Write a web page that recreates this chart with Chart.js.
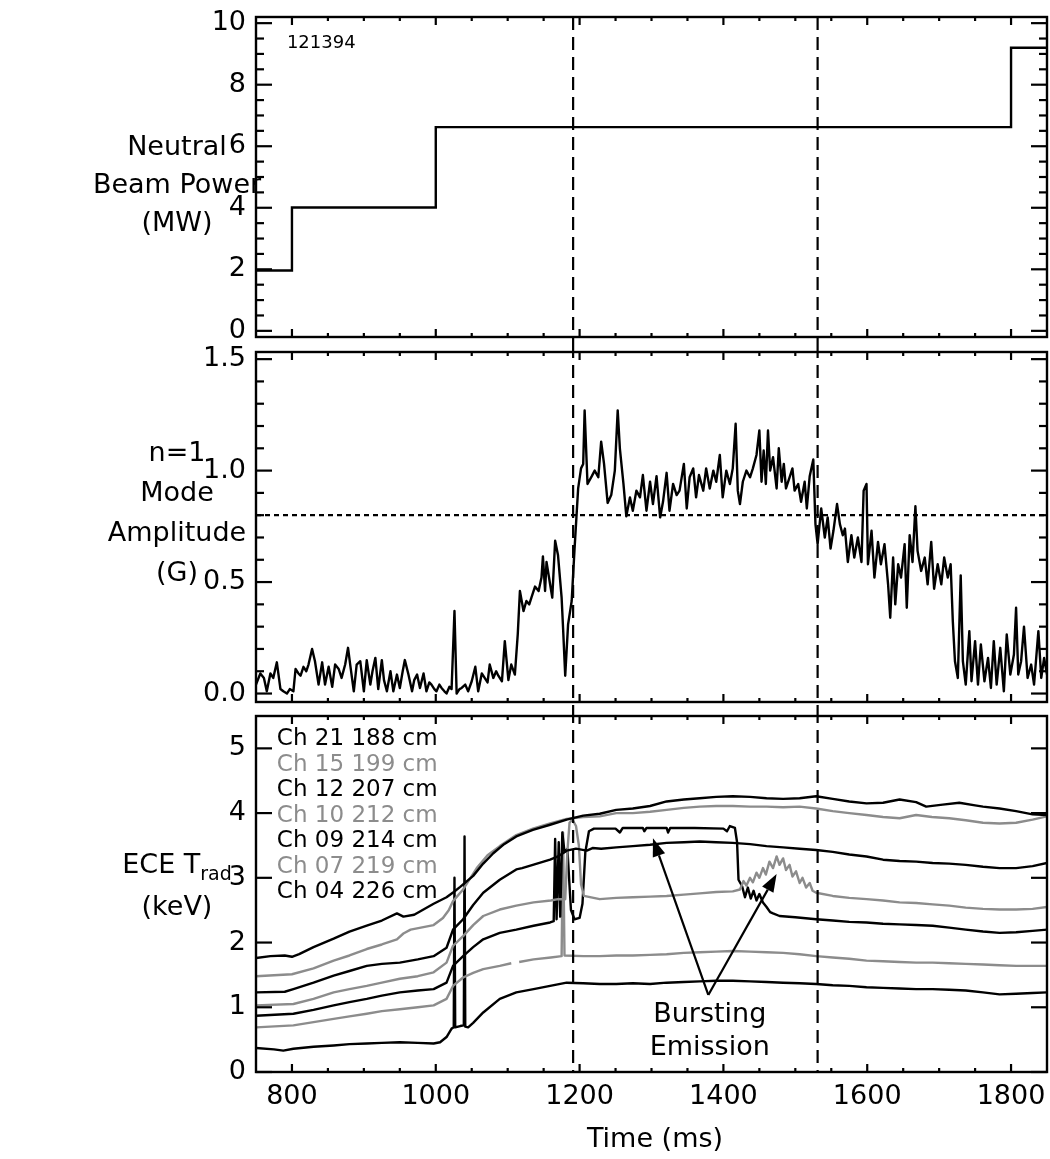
<!DOCTYPE html>
<html>
<head>
<meta charset="utf-8">
<script src="https://cdn.jsdelivr.net/npm/chart.js@4.4.1/dist/chart.umd.min.js"></script>
<style>
  body { margin: 0; background: #fff; }
  #page { position: relative; width: 1050px; height: 1159px; font-family: "DejaVu Sans", sans-serif; color: #000; }
  canvas { position: absolute; left: 0; }
  .lab { position: absolute; left: 27px; width: 300px; text-align: center; font-size: 27px; }
  .lab sub { font-size: 19px; vertical-align: -7px; line-height: 0; }
</style>
</head>
<body>
<div id="page">
  <canvas id="beamChart" width="1050" height="345" style="top:0px"></canvas>
  <canvas id="modeChart" width="1050" height="365" style="top:345px"></canvas>
  <canvas id="eceChart" width="1050" height="449" style="top:710px"></canvas>
  <div class="lab" style="top:127px; line-height:38px">Neutral<br>Beam Power<br>(MW)</div>
  <div class="lab" style="top:432px; line-height:40px">n=1<br>Mode<br>Amplitude<br>(G)</div>
  <div class="lab" style="top:843px; line-height:42px">ECE T<sub>rad</sub><br>(keV)</div>
  <div class="lab" style="top:1121px; left:505px; line-height:34px">Time (ms)</div>
</div>
<script>
// ---- data ----
const shotNumber = '121394';
const markTimes = [1191, 1531];      // dashed vertical lines (ms)
const modeThreshold = 0.8;           // dotted horizontal line (G)

const xMajor = [800, 1000, 1200, 1400, 1600, 1800];
const xMinor = [850, 900, 950, 1050, 1100, 1150, 1250, 1300, 1350, 1450, 1500, 1550, 1650, 1700, 1750];
const beamTicks = [0, 2, 4, 6, 8, 10];
const beamMinor = [0.5, 1, 1.5, 2.5, 3, 3.5, 4.5, 5, 5.5, 6.5, 7, 7.5, 8.5, 9, 9.5];
const modeTicks = [0, 0.5, 1, 1.5];
const modeMinor = [0.1, 0.2, 0.3, 0.4, 0.6, 0.7, 0.8, 0.9, 1.1, 1.2, 1.3, 1.4];
const eceTicks = [0, 1, 2, 3, 4, 5];

const beamTime = [750, 800, 1000, 1800, 1850];
const beamPower = [1.96, 4.01, 6.62, 9.2, 9.2];

const ampTime = [750, 756, 761, 765, 770, 774, 779, 784, 788, 793, 797, 802, 805, 809, 812, 816, 820, 823, 828, 832,
  837, 842, 846, 851, 856, 860, 865, 869, 874, 878, 881, 886, 890, 895, 900, 904, 909, 912, 916, 920,
  925, 928, 932, 937, 941, 946, 950, 954, 957, 962, 967, 970, 974, 978, 983, 987, 991, 994, 998, 1001,
  1005, 1008, 1012, 1015, 1019, 1022, 1026, 1029, 1033, 1036, 1041, 1045, 1050, 1055, 1059, 1064, 1068, 1072, 1075, 1080,
  1084, 1087, 1092, 1096, 1101, 1105, 1110, 1114, 1117, 1122, 1126, 1130, 1133, 1138, 1143, 1147, 1149, 1152, 1154, 1159,
  1162, 1166, 1170, 1175, 1177, 1180, 1184, 1189, 1193, 1198, 1202, 1205, 1207, 1211, 1217, 1221, 1226, 1230, 1234, 1239,
  1244, 1249, 1253, 1256, 1261, 1265, 1270, 1274, 1279, 1284, 1288, 1293, 1298, 1302, 1307, 1312, 1316, 1321, 1325, 1330,
  1335, 1339, 1345, 1349, 1353, 1358, 1362, 1366, 1372, 1376, 1381, 1386, 1390, 1395, 1399, 1404, 1409, 1413, 1417, 1420,
  1423, 1427, 1432, 1437, 1441, 1446, 1450, 1453, 1456, 1459, 1462, 1465, 1469, 1474, 1477, 1481, 1484, 1487, 1492, 1496,
  1499, 1504, 1508, 1513, 1516, 1520, 1525, 1528, 1531, 1536, 1541, 1545, 1549, 1553, 1558, 1562, 1566, 1569, 1573, 1578,
  1582, 1587, 1592, 1595, 1599, 1601, 1606, 1610, 1615, 1619, 1624, 1629, 1632, 1636, 1639, 1643, 1647, 1652, 1655, 1659,
  1663, 1667, 1670, 1675, 1680, 1684, 1689, 1693, 1698, 1703, 1707, 1712, 1716, 1719, 1722, 1726, 1730, 1733, 1737, 1742,
  1745, 1750, 1754, 1758, 1763, 1768, 1772, 1776, 1780, 1785, 1790, 1794, 1799, 1804, 1807, 1810, 1814, 1818, 1823, 1828,
  1832, 1838, 1842, 1846, 1850];
const ampValue = [0.04, 0.09, 0.07, 0.01, 0.09, 0.07, 0.14, 0.02, 0.01, 0.0, 0.02, 0.01, 0.11, 0.09, 0.08, 0.12, 0.1, 0.13, 0.2, 0.145,
  0.04, 0.14, 0.04, 0.12, 0.03, 0.13, 0.11, 0.07, 0.13, 0.205, 0.13, 0.01, 0.13, 0.145, 0.01, 0.15, 0.04, 0.1, 0.16, 0.02,
  0.15, 0.06, 0.01, 0.1, 0.01, 0.085, 0.025, 0.1, 0.15, 0.085, 0.01, 0.06, 0.085, 0.025, 0.09, 0.01, 0.05, 0.04, 0.02, 0.01,
  0.04, 0.025, 0.01, 0.0, 0.03, 0.02, 0.37, 0.0, 0.02, 0.025, 0.04, 0.01, 0.055, 0.12, 0.01, 0.09, 0.07, 0.05, 0.13, 0.07,
  0.1, 0.08, 0.055, 0.235, 0.06, 0.13, 0.085, 0.265, 0.46, 0.37, 0.415, 0.4, 0.43, 0.48, 0.46, 0.52, 0.615, 0.46, 0.59, 0.49,
  0.43, 0.685, 0.62, 0.43, 0.295, 0.08, 0.31, 0.415, 0.65, 0.92, 1.01, 1.03, 1.27, 0.94, 0.975, 1.0, 0.97, 1.13, 1.03, 0.855,
  0.89, 1.0, 1.27, 1.1, 0.94, 0.795, 0.88, 0.82, 0.91, 0.88, 0.98, 0.82, 0.95, 0.85, 0.975, 0.79, 0.86, 0.99, 0.82, 0.94,
  0.89, 0.91, 1.03, 0.83, 0.97, 1.01, 0.88, 0.98, 0.91, 1.01, 0.92, 1.0, 0.95, 1.07, 0.88, 1.0, 0.94, 1.01, 1.21, 0.91,
  0.85, 0.95, 1.0, 0.97, 1.01, 1.07, 1.18, 0.95, 1.09, 0.94, 1.18, 1.0, 1.06, 0.92, 1.1, 0.95, 1.03, 0.92, 0.97, 1.01,
  0.91, 0.94, 0.86, 0.95, 0.83, 0.975, 1.05, 0.76, 0.67, 0.83, 0.7, 0.79, 0.65, 0.73, 0.85, 0.76, 0.71, 0.74, 0.59, 0.71,
  0.61, 0.7, 0.59, 0.91, 0.94, 0.58, 0.73, 0.52, 0.68, 0.58, 0.67, 0.49, 0.34, 0.61, 0.4, 0.58, 0.52, 0.67, 0.385, 0.71,
  0.59, 0.84, 0.64, 0.55, 0.61, 0.49, 0.68, 0.47, 0.58, 0.49, 0.61, 0.52, 0.58, 0.325, 0.145, 0.07, 0.53, 0.145, 0.04, 0.28,
  0.055, 0.235, 0.04, 0.22, 0.055, 0.16, 0.025, 0.235, 0.04, 0.205, 0.01, 0.265, 0.085, 0.175, 0.385, 0.085, 0.145, 0.3, 0.07, 0.13,
  0.04, 0.28, 0.07, 0.16, 0.085];

// ECE radiometer channels
const eceLabels = ['Ch 21 188 cm', 'Ch 15 199 cm', 'Ch 12 207 cm', 'Ch 10 212 cm', 'Ch 09 214 cm', 'Ch 07 219 cm', 'Ch 04 226 cm'];

const ch21Time = [750, 770, 790, 800, 810, 830, 858, 880, 904, 925, 946, 955, 970, 997, 1015, 1025, 1034, 1052, 1066, 1080,
  1095, 1112, 1135, 1159, 1182, 1205, 1228, 1251, 1274, 1298, 1321, 1345, 1367, 1390, 1413, 1437, 1460, 1483, 1506, 1529,
  1552, 1575, 1599, 1622, 1645, 1668, 1682, 1705, 1728, 1750, 1761, 1784, 1807, 1830, 1850];
const ch21Te = [1.76, 1.79, 1.80, 1.78, 1.82, 1.93, 2.06, 2.17, 2.26, 2.34, 2.45, 2.40, 2.43, 2.60, 2.70, 2.78, 2.86, 3.03, 3.22, 3.38,
  3.52, 3.64, 3.74, 3.82, 3.90, 3.96, 3.99, 4.05, 4.07, 4.11, 4.18, 4.21, 4.23, 4.25, 4.26, 4.25, 4.23, 4.22, 4.23, 4.26,
  4.22, 4.18, 4.15, 4.16, 4.21, 4.17, 4.10, 4.13, 4.16, 4.12, 4.10, 4.07, 4.03, 3.98, 3.97];

const ch15Time = [750, 800, 830, 858, 880, 904, 925, 946, 955, 965, 997, 1010, 1018, 1024, 1038, 1057, 1072, 1089, 1112, 1135,
  1159, 1182, 1205, 1228, 1251, 1274, 1298, 1321, 1345, 1367, 1390, 1413, 1437, 1460, 1483, 1506, 1529, 1552, 1575, 1599,
  1622, 1645, 1668, 1690, 1714, 1737, 1761, 1784, 1807, 1830, 1850];
const ch15Te = [1.48, 1.51, 1.60, 1.72, 1.80, 1.90, 1.97, 2.05, 2.14, 2.20, 2.27, 2.38, 2.50, 2.64, 2.82, 3.15, 3.35, 3.49, 3.66, 3.76,
  3.84, 3.91, 3.94, 3.95, 4.00, 4.00, 4.02, 4.05, 4.08, 4.10, 4.11, 4.11, 4.10, 4.10, 4.09, 4.10, 4.07, 4.03, 4.00, 3.97,
  3.94, 3.92, 3.97, 3.94, 3.92, 3.89, 3.85, 3.84, 3.85, 3.90, 3.95];

const ch12Time = [750, 790, 802, 830, 858, 880, 904, 925, 950, 975, 997, 1015, 1024, 1038, 1052, 1066, 1089, 1112, 1120, 1135,
  1159, 1170, 1182, 1195, 1210, 1218, 1230, 1251, 1274, 1298, 1321, 1345, 1367, 1390, 1413, 1437, 1460, 1483, 1506, 1529,
  1552, 1575, 1599, 1622, 1645, 1668, 1691, 1714, 1737, 1761, 1784, 1807, 1830, 1850];
const ch12Te = [1.23, 1.24, 1.28, 1.38, 1.49, 1.56, 1.64, 1.67, 1.69, 1.74, 1.79, 1.92, 2.20, 2.36, 2.58, 2.77, 2.97, 3.13, 3.15, 3.20,
  3.28, 3.33, 3.42, 3.45, 3.42, 3.46, 3.45, 3.47, 3.49, 3.51, 3.54, 3.55, 3.56, 3.55, 3.54, 3.52, 3.49, 3.47, 3.45, 3.43,
  3.40, 3.36, 3.33, 3.28, 3.26, 3.25, 3.23, 3.22, 3.20, 3.17, 3.15, 3.15, 3.18, 3.23];

const ch10Time = [750, 802, 830, 858, 880, 904, 925, 950, 975, 997, 1015, 1024, 1038, 1052, 1066, 1089, 1112, 1136, 1160, 1170,
  1180, 1183, 1186, 1190, 1195, 1199, 1202, 1206, 1228, 1251, 1274, 1298, 1321, 1345, 1367, 1390, 1413, 1423, 1428, 1432,
  1437, 1441, 1446, 1450, 1455, 1459, 1464, 1469, 1474, 1478, 1483, 1487, 1492, 1496, 1501, 1506, 1510, 1515, 1520, 1524,
  1529, 1552, 1575, 1599, 1622, 1645, 1668, 1691, 1714, 1737, 1761, 1784, 1807, 1830, 1850];
const ch10Te = [1.03, 1.05, 1.13, 1.23, 1.28, 1.33, 1.38, 1.44, 1.48, 1.54, 1.69, 1.95, 2.10, 2.27, 2.41, 2.51, 2.57, 2.62, 2.65, 2.67,
  2.67, 3.40, 3.85, 3.90, 3.80, 3.50, 2.90, 2.72, 2.67, 2.69, 2.70, 2.71, 2.72, 2.74, 2.76, 2.78, 2.79, 2.82, 2.95, 2.88,
  3.00, 2.93, 3.08, 3.00, 3.15, 3.05, 3.25, 3.15, 3.33, 3.20, 3.30, 3.12, 3.20, 3.02, 3.10, 2.92, 3.00, 2.85, 2.92, 2.80,
  2.77, 2.72, 2.69, 2.67, 2.65, 2.62, 2.61, 2.59, 2.57, 2.54, 2.52, 2.51, 2.51, 2.52, 2.55];

const ch09Time = [750, 802, 830, 858, 880, 904, 925, 950, 975, 997, 1015, 1024, 1038, 1052, 1066, 1089, 1112, 1136, 1159, 1164,
  1166, 1168, 1171, 1173, 1176, 1179, 1183, 1188, 1193, 1200, 1204, 1208, 1213, 1220, 1250, 1256, 1260, 1288, 1290, 1293,
  1321, 1323, 1326, 1360, 1400, 1405, 1409, 1416, 1419, 1421, 1426, 1430, 1434, 1438, 1442, 1446, 1450, 1455, 1460, 1465,
  1469, 1478, 1500, 1529, 1552, 1575, 1599, 1622, 1645, 1668, 1691, 1714, 1737, 1761, 1784, 1807, 1830, 1850];
const ch09Te = [0.87, 0.90, 0.96, 1.03, 1.08, 1.13, 1.18, 1.23, 1.26, 1.28, 1.38, 1.64, 1.79, 1.93, 2.05, 2.15, 2.20, 2.26, 2.31, 2.33,
  3.60, 2.36, 3.55, 2.40, 3.70, 3.40, 3.45, 2.50, 2.36, 2.38, 2.60, 3.40, 3.72, 3.76, 3.76, 3.70, 3.77, 3.77, 3.72, 3.77,
  3.77, 3.70, 3.77, 3.77, 3.76, 3.72, 3.80, 3.77, 3.55, 2.97, 2.87, 2.70, 2.85, 2.68, 2.80, 2.65, 2.75, 2.62, 2.55, 2.47,
  2.45, 2.41, 2.39, 2.36, 2.34, 2.32, 2.31, 2.29, 2.28, 2.27, 2.26, 2.23, 2.20, 2.17, 2.15, 2.16, 2.18, 2.20];

// null = short gap in the Ch 07 record
const ch07Time = [750, 802, 830, 858, 880, 904, 925, 950, 975, 997, 1015, 1024, 1038, 1052, 1066, 1089, 1105, 1110, 1116, 1136,
  1160, 1175, 1177, 1179, 1205, 1228, 1251, 1274, 1298, 1321, 1345, 1367, 1390, 1413, 1437, 1460, 1483, 1506, 1529, 1552,
  1575, 1599, 1622, 1645, 1668, 1691, 1714, 1737, 1761, 1784, 1807, 1830, 1850];
const ch07Te = [0.69, 0.72, 0.77, 0.82, 0.86, 0.90, 0.94, 0.97, 1.00, 1.03, 1.13, 1.33, 1.46, 1.53, 1.59, 1.64, 1.68, null, 1.70, 1.74,
  1.77, 1.79, 3.70, 1.80, 1.79, 1.79, 1.80, 1.80, 1.81, 1.82, 1.84, 1.85, 1.86, 1.87, 1.86, 1.85, 1.84, 1.82, 1.79, 1.77,
  1.75, 1.72, 1.71, 1.70, 1.69, 1.69, 1.68, 1.67, 1.66, 1.65, 1.64, 1.64, 1.64];

const ch04Time = [750, 775, 788, 802, 830, 858, 880, 904, 925, 950, 975, 997, 1006, 1015, 1022, 1025, 1026, 1027, 1034, 1039,
  1040, 1041, 1045, 1052, 1066, 1089, 1112, 1136, 1159, 1182, 1205, 1228, 1251, 1274, 1298, 1321, 1345, 1367, 1390, 1413,
  1437, 1460, 1483, 1506, 1529, 1552, 1575, 1599, 1622, 1645, 1668, 1691, 1714, 1737, 1761, 1784, 1807, 1830, 1850];
const ch04Te = [0.37, 0.35, 0.33, 0.36, 0.39, 0.41, 0.43, 0.44, 0.45, 0.46, 0.45, 0.44, 0.46, 0.54, 0.67, 0.69, 3.00, 0.69, 0.71, 0.72,
  3.64, 0.70, 0.69, 0.76, 0.92, 1.13, 1.23, 1.28, 1.33, 1.38, 1.37, 1.36, 1.36, 1.37, 1.36, 1.38, 1.39, 1.40, 1.41, 1.41,
  1.40, 1.39, 1.38, 1.37, 1.36, 1.34, 1.33, 1.31, 1.30, 1.29, 1.28, 1.28, 1.27, 1.26, 1.23, 1.20, 1.21, 1.22, 1.23];

// ---- styles ----
const FONT = '"DejaVu Sans", sans-serif';
const GRAY = '#8c8c8c';
const eceColors = ['#000', GRAY, '#000', GRAY, '#000', GRAY, '#000'];
const eceTimes = [ch21Time, ch15Time, ch12Time, ch10Time, ch09Time, ch07Time, ch04Time];
const eceValues = [ch21Te, ch15Te, ch12Te, ch10Te, ch09Te, ch07Te, ch04Te];

const toPoints = (ts, vs) => ts.map((t, i) => ({x: t, y: vs[i]}));

// frame, inward ticks, marker lines and annotations
function makeDecor(cfg) {
  return {
    id: 'decor',
    afterDatasetsDraw(chart) {
      const {ctx, chartArea: a, scales: {x, y}} = chart;
      const seg = (x1, y1, x2, y2) => { ctx.beginPath(); ctx.moveTo(x1, y1); ctx.lineTo(x2, y2); ctx.stroke(); };
      ctx.save();
      ctx.strokeStyle = '#000';
      ctx.fillStyle = '#000';
      ctx.lineWidth = 2.2;

      ctx.setLineDash([13, 7]);
      markTimes.forEach(t => {
        const px = x.getPixelForValue(t);
        seg(px, cfg.dashUp ? 0 : a.top, px, cfg.dashDown ? chart.height : a.bottom);
      });
      if (cfg.hline != null) {
        ctx.setLineDash([5, 4]);
        const py = y.getPixelForValue(cfg.hline);
        seg(a.left, py, a.right, py);
      }
      ctx.setLineDash([]);

      ctx.lineWidth = 2.4;
      ctx.strokeRect(a.left, a.top, a.right - a.left, a.bottom - a.top);
      ctx.lineWidth = 2.2;
      xMajor.forEach(v => { const p = x.getPixelForValue(v); seg(p, a.bottom, p, a.bottom - 8); seg(p, a.top, p, a.top + 8); });
      xMinor.forEach(v => { const p = x.getPixelForValue(v); seg(p, a.bottom, p, a.bottom - 4); seg(p, a.top, p, a.top + 4); });
      cfg.yMajor.forEach(v => { const p = y.getPixelForValue(v); seg(a.left, p, a.left + 16, p); seg(a.right, p, a.right - 16, p); });
      (cfg.yMinor || []).forEach(v => { const p = y.getPixelForValue(v); seg(a.left, p, a.left + 8, p); seg(a.right, p, a.right - 8, p); });

      (cfg.texts || []).forEach(tx => {
        ctx.font = tx.size + 'px ' + FONT;
        ctx.textAlign = tx.align;
        ctx.textBaseline = 'middle';
        ctx.fillText(tx.text, x.getPixelForValue(tx.t), y.getPixelForValue(tx.v));
      });

      if (cfg.legend) {
        ctx.font = '23px ' + FONT;
        ctx.textAlign = 'left';
        ctx.textBaseline = 'middle';
        const lx = x.getPixelForValue(cfg.legend.t);
        const ly = y.getPixelForValue(cfg.legend.v);
        chart.data.datasets.forEach((ds, i) => {
          ctx.fillStyle = ds.borderColor;
          ctx.fillText(ds.label, lx, ly + i * cfg.legend.step);
        });
        ctx.fillStyle = '#000';
      }

      (cfg.arrows || []).forEach(ar => {
        const x0 = x.getPixelForValue(ar.from[0]), y0 = y.getPixelForValue(ar.from[1]);
        const x1 = x.getPixelForValue(ar.to[0]), y1 = y.getPixelForValue(ar.to[1]);
        const ang = Math.atan2(y1 - y0, x1 - x0);
        const hl = 18, hw = 6.5;
        const bx = x1 - hl * Math.cos(ang), by = y1 - hl * Math.sin(ang);
        seg(x0, y0, bx, by);
        ctx.beginPath();
        ctx.moveTo(x1, y1);
        ctx.lineTo(bx + hw * Math.sin(ang), by - hw * Math.cos(ang));
        ctx.lineTo(bx - hw * Math.sin(ang), by + hw * Math.cos(ang));
        ctx.closePath();
        ctx.fill();
      });
      ctx.restore();
    }
  };
}

const noPad = s => { s.paddingTop = 0; s.paddingBottom = 0; s.paddingLeft = 0; s.paddingRight = 0; };

function makeOptions(p) {
  return {
    responsive: false,
    animation: false,
    layout: {padding: {top: p.padTop, right: 3, left: 0, bottom: 0}},
    plugins: {legend: {display: false}, tooltip: {enabled: false}},
    elements: {point: {radius: 0}, line: {borderWidth: 2.4, tension: 0}},
    scales: {
      x: {
        type: 'linear', min: 750, max: 1850,
        grid: {display: false, drawTicks: false},
        border: {display: false},
        ticks: {display: p.showX, color: '#000', font: {family: FONT, size: 27}, padding: 9, autoSkip: false, maxRotation: 0,
          callback: v => String(v)},
        afterBuildTicks: s => { s.ticks = xMajor.map(v => ({value: v})); },
        afterFit: s => { s.height = p.xHeight; noPad(s); }
      },
      y: {
        type: 'linear', min: p.yMin, max: p.yMax,
        grid: {display: false, drawTicks: false},
        border: {display: false},
        ticks: {color: '#000', font: {family: FONT, size: 27}, padding: 10, autoSkip: false,
          callback: v => p.digits ? v.toFixed(p.digits) : String(v)},
        afterBuildTicks: s => { s.ticks = p.yTicks.map(v => ({value: v})); },
        afterFit: s => { s.width = 256; noPad(s); }
      }
    }
  };
}

new Chart(document.getElementById('beamChart'), {
  type: 'line',
  data: {datasets: [{label: 'NB power', data: toPoints(beamTime, beamPower), borderColor: '#000', stepped: true}]},
  options: makeOptions({padTop: 17, xHeight: 8, showX: false, yMin: -0.2, yMax: 10.2, yTicks: beamTicks}),
  plugins: [makeDecor({yMajor: beamTicks, yMinor: beamMinor, dashDown: true,
    texts: [{text: shotNumber, t: 793, v: 9.35, align: 'left', size: 18}]})]
});

new Chart(document.getElementById('modeChart'), {
  type: 'line',
  data: {datasets: [{label: 'n=1 amplitude', data: toPoints(ampTime, ampValue), borderColor: '#000', borderJoinStyle: 'round'}]},
  options: makeOptions({padTop: 7, xHeight: 8, showX: false, yMin: -0.038, yMax: 1.532, yTicks: modeTicks, digits: 1}),
  plugins: [makeDecor({yMajor: modeTicks, yMinor: modeMinor, dashUp: true, dashDown: true, hline: modeThreshold})]
});

new Chart(document.getElementById('eceChart'), {
  type: 'line',
  data: {datasets: eceLabels.map((lab, i) => ({
    label: lab, data: toPoints(eceTimes[i], eceValues[i]), borderColor: eceColors[i], borderJoinStyle: 'round'
  }))},
  options: makeOptions({padTop: 6, xHeight: 87, showX: true, yMin: 0, yMax: 5.5, yTicks: eceTicks}),
  plugins: [makeDecor({yMajor: eceTicks, dashUp: true,
    legend: {t: 779, v: 5.14, step: 25.5},
    texts: [{text: 'Bursting', t: 1381, v: 0.88, align: 'center', size: 27},
            {text: 'Emission', t: 1381, v: 0.37, align: 'center', size: 27}],
    arrows: [{from: [1379, 1.19], to: [1302, 3.61]}, {from: [1379, 1.19], to: [1474, 3.06]}]})]
});
</script>
</body>
</html>
